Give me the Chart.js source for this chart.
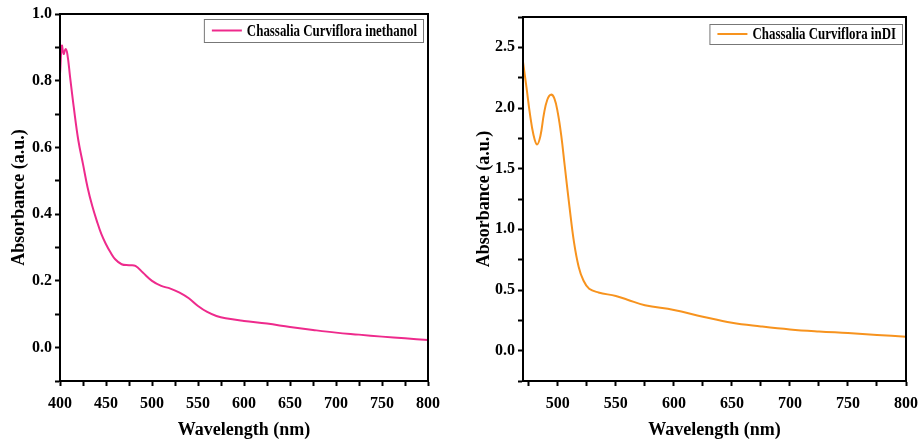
<!DOCTYPE html>
<html>
<head>
<meta charset="utf-8">
<script src="https://cdn.jsdelivr.net/npm/chart.js@4.4.1/dist/chart.umd.min.js"></script>
<style>
  html, body { margin: 0; padding: 0; background: #fff; }
  .wrap { position: absolute; top: 0; width: 460px; height: 441px; }
  #w1 { left: 0; }
  #w2 { left: 460px; }
</style>
</head>
<body>
<div class="wrap" id="w1"><canvas id="ethChart" width="460" height="441"></canvas></div>
<div class="wrap" id="w2"><canvas id="diChart" width="460" height="441"></canvas></div>
<script>
// left panel: extract in ethanol
const ethWavelength = [400, 402, 404, 406, 408, 411, 415, 420, 425, 430, 435, 440, 445, 450, 455, 460, 467, 475, 482, 490, 500, 510, 520, 530, 540, 550, 560, 570, 580, 600, 625, 650, 675, 700, 725, 750, 775, 800];
const ethAbsorbance = [0.82, 0.905, 0.88, 0.895, 0.88, 0.81, 0.72, 0.62, 0.55, 0.48, 0.425, 0.38, 0.34, 0.31, 0.285, 0.265, 0.25, 0.247, 0.245, 0.225, 0.2, 0.185, 0.177, 0.165, 0.148, 0.125, 0.107, 0.095, 0.088, 0.08, 0.072, 0.062, 0.053, 0.045, 0.039, 0.033, 0.028, 0.023];

// right panel: extract in DI water
const diWavelength = [470, 473, 476, 479, 482, 485, 488, 491, 494, 497, 500, 503, 506, 510, 514, 518, 522, 527, 535, 550, 560, 575, 600, 625, 650, 675, 700, 725, 750, 775, 800];
const diAbsorbance = [2.38, 2.17, 1.95, 1.78, 1.70, 1.77, 1.95, 2.07, 2.11, 2.08, 1.96, 1.77, 1.52, 1.19, 0.89, 0.69, 0.58, 0.51, 0.48, 0.45, 0.42, 0.375, 0.335, 0.28, 0.23, 0.2, 0.175, 0.158, 0.145, 0.13, 0.115];

const ethLabel = 'Chassalia Curviflora inethanol';
const diLabel = 'Chassalia Curviflora inDI';

const serif = '"Liberation Serif", "Times New Roman", serif';

function toPoints(xs, ys) {
    return xs.map((x, i) => ({ x: x, y: ys[i] }));
}

// frame on top + right, legend box inside plot
const framePlugin = {
    id: 'frame',
    afterDraw(chart, args, opts) {
        const ctx = chart.ctx;
        const a = chart.chartArea;
        ctx.save();
        ctx.strokeStyle = '#000';
        ctx.lineWidth = 2;
        ctx.strokeRect(a.left, a.top, a.right - a.left, a.bottom - a.top);

        // legend
        ctx.font = 'bold 17px ' + serif;
        const squash = opts.squash;
        const tw = ctx.measureText(opts.text).width * squash;
        const lineLen = 30;
        const bw = 8 + lineLen + 5 + tw + 6;
        const bh = opts.boxH;
        const bx = a.right - opts.dx - bw;
        const by = a.top + opts.dy;
        ctx.fillStyle = '#fff';
        ctx.fillRect(bx, by, bw, bh);
        ctx.strokeStyle = '#777';
        ctx.lineWidth = 1;
        ctx.strokeRect(bx + 0.5, by + 0.5, bw, bh);
        ctx.strokeStyle = opts.color;
        ctx.lineWidth = 2;
        ctx.beginPath();
        ctx.moveTo(bx + 8, by + bh / 2);
        ctx.lineTo(bx + 8 + lineLen, by + bh / 2);
        ctx.stroke();
        ctx.fillStyle = '#000';
        ctx.textBaseline = 'middle';
        ctx.translate(bx + 8 + lineLen + 5, by + bh / 2 + 1);
        ctx.scale(squash, 1);
        ctx.fillText(opts.text, 0, 0);
        ctx.restore();
    }
};

function makeChart(id, xs, ys, color, label, xr, yr, pad, legend) {
    const ctx = document.getElementById(id).getContext('2d');
    return new Chart(ctx, {
        type: 'line',
        data: {
            datasets: [{
                label: label,
                data: toPoints(xs, ys),
                borderColor: color,
                borderWidth: 2,
                pointRadius: 0,
                tension: 0.4,
                fill: false
            }]
        },
        options: {
            responsive: false,
            animation: false,
            layout: { padding: pad },
            scales: {
                x: {
                    type: 'linear',
                    min: xr.min,
                    max: xr.max,
                    afterFit(s) {
                        s.height = 60;
                        s.paddingLeft = 0;
                        s.paddingRight = 0;
                    },
                    afterBuildTicks(s) {
                        s.ticks = xr.ticks.map(v => ({ value: v }));
                    },
                    border: { color: '#000', width: 2 },
                    grid: { drawOnChartArea: false, drawTicks: true, tickLength: 5, tickColor: '#000', tickWidth: 2 },
                    ticks: {
                        autoSkip: false,
                        maxRotation: 0,
                        padding: 8,
                        color: '#000',
                        font: { family: serif, size: 16, weight: 'bold' },
                        callback: v => (v % 50 === 0 ? String(v) : '')
                    },
                    title: {
                        display: true,
                        text: 'Wavelength (nm)',
                        color: '#000',
                        padding: { top: 2, bottom: 0 },
                        font: { family: serif, size: 18, weight: 'bold' }
                    }
                },
                y: {
                    min: yr.min,
                    max: yr.max,
                    afterFit(s) { s.width = pad.yw; },
                    afterBuildTicks(s) {
                        s.ticks = yr.ticks.map(v => ({ value: v }));
                    },
                    border: { color: '#000', width: 2 },
                    grid: { drawOnChartArea: false, drawTicks: true, tickLength: 5, tickColor: '#000', tickWidth: 2 },
                    ticks: {
                        autoSkip: false,
                        padding: 3,
                        color: '#000',
                        font: { family: serif, size: 16, weight: 'bold' },
                        callback: v => (yr.labels.includes(v) ? v.toFixed(1) : '')
                    },
                    title: {
                        display: true,
                        text: 'Absorbance (a.u.)',
                        color: '#000',
                        padding: { top: pad.tpad, bottom: 0 },
                        font: { family: serif, size: 18, weight: 'bold' }
                    }
                }
            },
            plugins: {
                legend: { display: false },
                tooltip: { enabled: false },
                frame: legend
            }
        },
        plugins: [framePlugin]
    });
}

const ethXTicks = [400, 425, 450, 475, 500, 525, 550, 575, 600, 625, 650, 675, 700, 725, 750, 775, 800];
const ethYTicks = [-0.1, 0, 0.1, 0.2, 0.3, 0.4, 0.5, 0.6, 0.7, 0.8, 0.9, 1.0];
const ethYLabels = [0, 0.2, 0.4, 0.6, 0.8, 1.0];

const diXTicks = [475, 500, 525, 550, 575, 600, 625, 650, 675, 700, 725, 750, 775, 800];
const diYTicks = [-0.25, 0, 0.25, 0.5, 0.75, 1.0, 1.25, 1.5, 1.75, 2.0, 2.25, 2.5, 2.75];
const diYLabels = [0, 0.5, 1.0, 1.5, 2.0, 2.5];

makeChart('ethChart', ethWavelength, ethAbsorbance, '#ee2a8c', ethLabel,
    { min: 400, max: 800, ticks: ethXTicks },
    { min: -0.1, max: 1.0, ticks: ethYTicks, labels: ethYLabels },
    { left: 0, right: 32, top: 14, bottom: 0, yw: 60, tpad: 9 },
    { text: ethLabel, color: '#ee2a8c', squash: 0.76, dx: 5, dy: 5, boxH: 23 });

makeChart('diChart', diWavelength, diAbsorbance, '#f7931e', diLabel,
    { min: 470, max: 800, ticks: diXTicks },
    { min: -0.25, max: 2.75, ticks: diYTicks, labels: diYLabels },
    { left: 0, right: 14, top: 17, bottom: 0, yw: 63, tpad: 14 },
    { text: diLabel, color: '#f7931e', squash: 0.76, dx: 4, dy: 7, boxH: 20 });
</script>
</body>
</html>
